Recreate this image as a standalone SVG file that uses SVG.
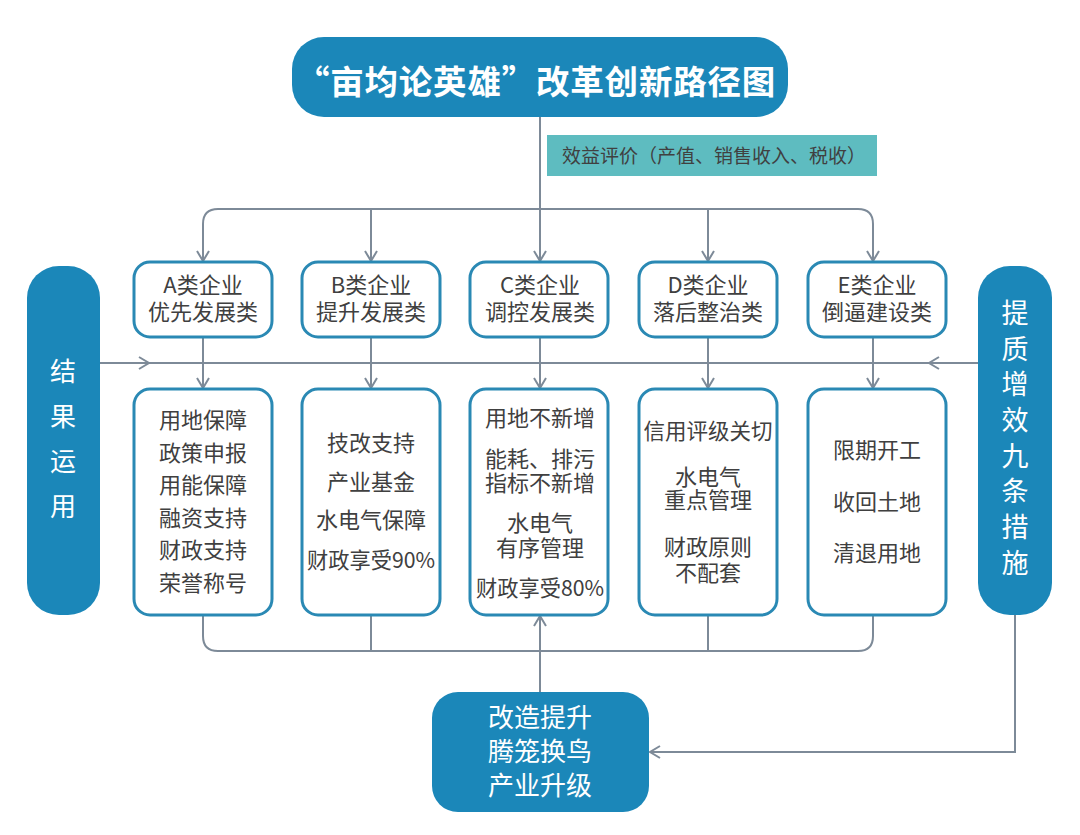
<svg xmlns="http://www.w3.org/2000/svg" width="1080" height="835" viewBox="0 0 1080 835">
<defs>
<style>
.fillb{fill:#1b87b9;}
.box{fill:#ffffff;stroke:#2a89b4;stroke-width:3;}
.t{font-family:"Noto Sans CJK SC","Noto Sans",sans-serif;fill:#404040;text-anchor:middle;}
.tw{font-family:"Noto Sans CJK SC","Noto Sans",sans-serif;fill:#ffffff;text-anchor:middle;}
.c{fill:none;stroke:#7d8a98;stroke-width:2;}
</style>
<marker id="ah" markerUnits="userSpaceOnUse" markerWidth="16" markerHeight="16" refX="11" refY="7" orient="auto">
<path d="M1,1 L11,7 L1,13" fill="none" stroke="#7d8a98" stroke-width="2"/>
</marker>
</defs>
<rect width="1080" height="835" fill="#ffffff"/>

<g id="connectors">
<path class="c" d="M540,117 V261" marker-end="url(#ah)"/>
<path class="c" d="M218,209 H858"/>
<path class="c" d="M218,209 Q203,209 203,224 V261" marker-end="url(#ah)"/>
<path class="c" d="M371,209 V261" marker-end="url(#ah)"/>
<path class="c" d="M708,209 V261" marker-end="url(#ah)"/>
<path class="c" d="M858,209 Q873,209 873,224 V261" marker-end="url(#ah)"/>
<path class="c" d="M203,337 V388" marker-end="url(#ah)"/>
<path class="c" d="M371,337 V388" marker-end="url(#ah)"/>
<path class="c" d="M540,337 V388" marker-end="url(#ah)"/>
<path class="c" d="M708,337 V388" marker-end="url(#ah)"/>
<path class="c" d="M873,337 V388" marker-end="url(#ah)"/>
<path class="c" d="M100,363 H978"/>
<path class="c" d="M100,363 H149" marker-end="url(#ah)"/>
<path class="c" d="M978,363 H929" marker-end="url(#ah)"/>
<path class="c" d="M203,615 V636 Q203,651 218,651 H858 Q873,651 873,636 V615"/>
<path class="c" d="M371,615 V651"/>
<path class="c" d="M708,615 V651"/>
<path class="c" d="M540,692 V616" marker-end="url(#ah)"/>
<path class="c" d="M1015,615 V752 H650" marker-end="url(#ah)"/>
</g>

<g id="title">
<rect class="fillb" x="292" y="37" width="496" height="80" rx="32"/>
<text class="tw" x="536" y="94" font-size="33.5" font-weight="bold" letter-spacing="0.8">“亩均论英雄”改革创新路径图</text>
</g>

<g id="label-benefit">
<rect x="547" y="135" width="330" height="41" fill="#5ebcc0"/>
<text class="t" x="714" y="163" font-size="19">效益评价（产值、销售收入、税收）</text>
</g>

<g id="left-pill">
<rect class="fillb" x="27" y="266" width="73" height="349" rx="32"/>
<text class="tw" x="63" y="381" font-size="26">结</text>
<text class="tw" x="63" y="426" font-size="26">果</text>
<text class="tw" x="63" y="471" font-size="26">运</text>
<text class="tw" x="63" y="516" font-size="26">用</text>
</g>

<g id="right-pill">
<rect class="fillb" x="978" y="266" width="74" height="349" rx="32"/>
<text class="tw" x="1015" y="323" font-size="27">提</text>
<text class="tw" x="1015" y="359" font-size="27">质</text>
<text class="tw" x="1015" y="394" font-size="27">增</text>
<text class="tw" x="1015" y="430" font-size="27">效</text>
<text class="tw" x="1015" y="466" font-size="27">九</text>
<text class="tw" x="1015" y="501" font-size="27">条</text>
<text class="tw" x="1015" y="537" font-size="27">措</text>
<text class="tw" x="1015" y="573" font-size="27">施</text>
</g>

<g id="cat-a">
<rect class="box" x="134" y="262" width="138" height="75" rx="16"/>
<text class="t" font-size="22"><tspan x="203" y="293">A类企业</tspan><tspan x="203" y="320">优先发展类</tspan></text>
</g>
<g id="cat-b">
<rect class="box" x="302" y="262" width="138" height="75" rx="16"/>
<text class="t" font-size="22"><tspan x="371" y="293">B类企业</tspan><tspan x="371" y="320">提升发展类</tspan></text>
</g>
<g id="cat-c">
<rect class="box" x="470" y="262" width="138" height="75" rx="16"/>
<text class="t" font-size="22"><tspan x="540" y="293">C类企业</tspan><tspan x="540" y="320">调控发展类</tspan></text>
</g>
<g id="cat-d">
<rect class="box" x="639" y="262" width="138" height="75" rx="16"/>
<text class="t" font-size="22"><tspan x="708" y="293">D类企业</tspan><tspan x="708" y="320">落后整治类</tspan></text>
</g>
<g id="cat-e">
<rect class="box" x="808" y="262" width="138" height="75" rx="16"/>
<text class="t" font-size="22"><tspan x="877" y="293">E类企业</tspan><tspan x="877" y="320">倒逼建设类</tspan></text>
</g>

<g id="measures-a">
<rect class="box" x="134" y="389" width="138" height="226" rx="16"/>
<text class="t" font-size="22"><tspan x="203" y="428">用地保障</tspan><tspan x="203" y="461">政策申报</tspan><tspan x="203" y="493">用能保障</tspan><tspan x="203" y="526">融资支持</tspan><tspan x="203" y="558">财政支持</tspan><tspan x="203" y="591">荣誉称号</tspan></text>
</g>
<g id="measures-b">
<rect class="box" x="302" y="389" width="138" height="226" rx="16"/>
<text class="t" x="371" y="451" font-size="22">技改支持</text>
<text class="t" x="371" y="490" font-size="22">产业基金</text>
<text class="t" x="371" y="528" font-size="22">水电气保障</text>
<text class="t" x="371" y="568" font-size="22" textLength="128" lengthAdjust="spacingAndGlyphs">财政享受90%</text>
</g>
<g id="measures-c">
<rect class="box" x="470" y="389" width="138" height="226" rx="16"/>
<text class="t" x="540" y="426" font-size="22">用地不新增</text>
<text class="t" font-size="22"><tspan x="540" y="467">能耗、排污</tspan><tspan x="540" y="491">指标不新增</tspan></text>
<text class="t" font-size="22"><tspan x="540" y="531">水电气</tspan><tspan x="540" y="556">有序管理</tspan></text>
<text class="t" x="540" y="596" font-size="22" textLength="128" lengthAdjust="spacingAndGlyphs">财政享受80%</text>
</g>
<g id="measures-d">
<rect class="box" x="639" y="389" width="138" height="226" rx="16"/>
<text class="t" x="708" y="439" font-size="21.5">信用评级关切</text>
<text class="t" font-size="22"><tspan x="708" y="485">水电气</tspan><tspan x="708" y="508">重点管理</tspan></text>
<text class="t" font-size="22"><tspan x="708" y="555">财政原则</tspan><tspan x="708" y="581">不配套</tspan></text>
</g>
<g id="measures-e">
<rect class="box" x="808" y="389" width="138" height="226" rx="16"/>
<text class="t" x="877" y="458" font-size="22">限期开工</text>
<text class="t" x="877" y="510" font-size="22">收回土地</text>
<text class="t" x="877" y="561" font-size="22">清退用地</text>
</g>

<g id="upgrade">
<rect class="fillb" x="432" y="692" width="217" height="120" rx="26"/>
<text class="tw" font-size="26"><tspan x="540" y="727">改造提升</tspan><tspan x="540" y="761">腾笼换鸟</tspan><tspan x="540" y="795">产业升级</tspan></text>
</g>
</svg>
